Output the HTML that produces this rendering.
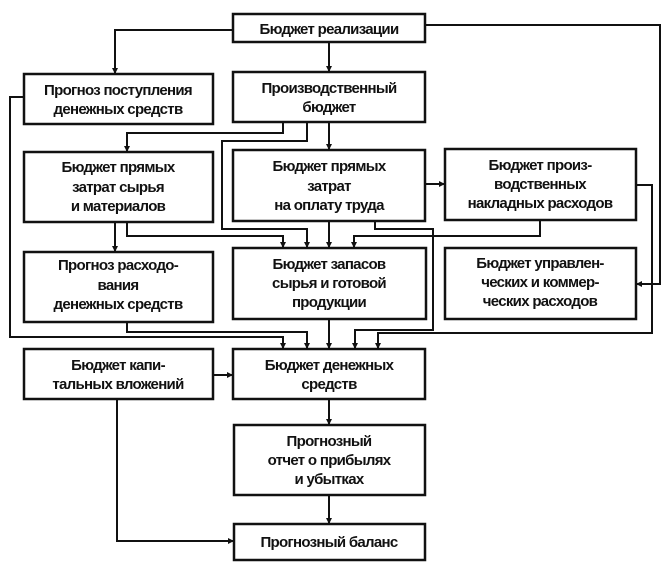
<!DOCTYPE html>
<html><head><meta charset="utf-8"><style>
html,body{margin:0;padding:0;background:#fff;}
svg{display:block;}
text{font-family:"Liberation Sans",sans-serif;font-weight:bold;font-size:15px;letter-spacing:-0.7px;fill:#111;text-anchor:middle;}
</style></head><body>
<svg width="669" height="563" viewBox="0 0 669 563" xmlns="http://www.w3.org/2000/svg">
<defs><marker id="a" markerWidth="6" markerHeight="6" refX="5" refY="3" orient="auto" markerUnits="userSpaceOnUse"><path d="M0,0 L6,3 L0,6 z" fill="#111"/></marker></defs>
<g fill="none" stroke="#111" stroke-width="2.5">
<rect x="233" y="14" width="192" height="28"/>
<rect x="24" y="74" width="189" height="50"/>
<rect x="233" y="72" width="192" height="50"/>
<rect x="24" y="152" width="189" height="70"/>
<rect x="233" y="150" width="192" height="71"/>
<rect x="445" y="149" width="191" height="71"/>
<rect x="24" y="252" width="189" height="70"/>
<rect x="233" y="248" width="193" height="71"/>
<rect x="445" y="248" width="191" height="71"/>
<rect x="24" y="349" width="189" height="50"/>
<rect x="233" y="349" width="192" height="50"/>
<rect x="234" y="425" width="191" height="70"/>
<rect x="234" y="524" width="191" height="36"/>
</g>
<g fill="none" stroke="#111" stroke-width="2" marker-end="url(#a)">
<path d="M233,30 H115 V73"/>
<path d="M425,25 H660 V284 H637"/>
<path d="M329,42 V71"/>
<path d="M24,97 H10 V337 H283 V348"/>
<path d="M283,122 V133 H127 V151"/>
<path d="M307,122 V141 H222 V229 H307 V247"/>
<path d="M329,122 V149"/>
<path d="M115,222 V251"/>
<path d="M127,222 V236 H283 V247"/>
<path d="M329,221 V247"/>
<path d="M375,221 V229 H433 V330 H355 V348"/>
<path d="M540,220 V236 H354 V247"/>
<path d="M636,185 H652 V333 H378 V348"/>
<path d="M425,184 H444"/>
<path d="M127,322 V332 H307 V348"/>
<path d="M329,319 V348"/>
<path d="M213,375 H232"/>
<path d="M329,399 V424"/>
<path d="M329,495 V523"/>
<path d="M117,399 V541 H233"/>
</g>
<text x="329" y="34">Бюджет реализации</text>
<text x="118" y="95">Прогноз поступления</text>
<text x="118" y="114">денежных средств</text>
<text x="329" y="93">Производственный</text>
<text x="329" y="112">бюджет</text>
<text x="118" y="172">Бюджет прямых</text>
<text x="118" y="192">затрат сырья</text>
<text x="118" y="211">и материалов</text>
<text x="329" y="171">Бюджет прямых</text>
<text x="329" y="191">затрат</text>
<text x="329" y="210">на оплату труда</text>
<text x="540" y="170">Бюджет произ-</text>
<text x="540" y="189">водственных</text>
<text x="540" y="208">накладных расходов</text>
<text x="118" y="270">Прогноз расходо-</text>
<text x="118" y="290">вания</text>
<text x="118" y="309">денежных средств</text>
<text x="329" y="269">Бюджет запасов</text>
<text x="329" y="288">сырья и готовой</text>
<text x="329" y="307">продукции</text>
<text x="540" y="268">Бюджет управлен-</text>
<text x="540" y="287">ческих и коммер-</text>
<text x="540" y="306">ческих расходов</text>
<text x="118" y="370">Бюджет капи-</text>
<text x="118" y="389">тальных вложений</text>
<text x="329" y="370">Бюджет денежных</text>
<text x="329" y="389">средств</text>
<text x="329" y="446">Прогнозный</text>
<text x="329" y="465">отчет о прибылях</text>
<text x="329" y="484">и убытках</text>
<text x="329" y="547">Прогнозный баланс</text>
</svg>
</body></html>
